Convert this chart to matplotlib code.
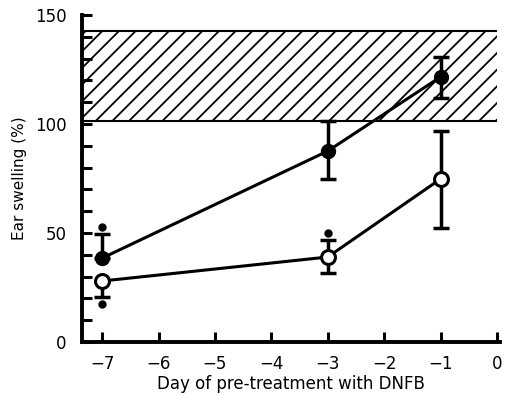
import matplotlib
matplotlib.use('Agg')
import matplotlib.pyplot as plt
from matplotlib.ticker import MultipleLocator

plt.rcParams['font.family'] = ['DejaVu Sans']
plt.rcParams['hatch.linewidth'] = 1.3

# data
days = [-7, -3, -1]
filled = [38.5, 87.6, 121.6]
filled_lo = [None, 74.8, 112.0]
filled_hi = [49.5, 101.4, 130.7]
opened = [28.0, 39.0, 74.8]
opened_lo = [20.6, 31.6, 52.3]
opened_hi = [None, 46.8, 96.8]
# significance dots
sig_x = [-7, -7, -3]
sig_y = [52.8, 17.4, 50.0]
band = (101.5, 142.5)

fig = plt.figure(figsize=(5.07, 3.95), dpi=100)
ax = fig.add_axes([0.162, 0.134, 0.824, 0.828])

# hatched normal-range band
ax.fill_between([-7.35, 0.0], band[0], band[1], facecolor='none',
                edgecolor='black', hatch='//', linewidth=0)
ax.hlines(band, -7.35, 0.0, color='black', lw=1.5)

# error bars
for x, y, lo, hi in zip(days, filled, filled_lo, filled_hi):
    yl = lo if lo is not None else y
    yh = hi if hi is not None else y
    ax.errorbar([x], [y], yerr=[[y - yl], [yh - y]], fmt='none',
                ecolor='black', elinewidth=2.5, capsize=6, capthick=2.5)
for x, y, lo, hi in zip(days, opened, opened_lo, opened_hi):
    yl = lo if lo is not None else y
    yh = hi if hi is not None else y
    ax.errorbar([x], [y], yerr=[[y - yl], [yh - y]], fmt='none',
                ecolor='black', elinewidth=2.5, capsize=6, capthick=2.5)

ax.plot(days, filled, '-o', color='black', lw=2.2, ms=10, mfc='black',
        mec='black', zorder=4)
ax.plot(days, opened, '-o', color='black', lw=2.2, ms=10, mfc='white',
        mec='black', mew=2.2, zorder=4)
ax.plot(sig_x, sig_y, 'o', color='black', ms=5, ls='none')

ax.set_xlim(-7.354, 0.053)
ax.set_ylim(0, 150)
ax.xaxis.set_major_locator(MultipleLocator(1))
ax.yaxis.set_major_locator(MultipleLocator(50))
ax.yaxis.set_minor_locator(MultipleLocator(10))
ax.tick_params(which='both', direction='in', width=2.2, length=7,
               labelsize=12)
ax.tick_params(axis='y', pad=11)
ax.tick_params(axis='x', pad=9)
ax.spines['top'].set_visible(False)
ax.spines['right'].set_visible(False)
ax.spines['left'].set_linewidth(2.8)
ax.spines['bottom'].set_linewidth(2.8)

ax.set_xlabel('Day of pre-treatment with DNFB', fontsize=12, labelpad=2)
ax.set_ylabel('Ear swelling (%)', fontsize=11, labelpad=6)

fig.savefig('out.png', dpi=100)
